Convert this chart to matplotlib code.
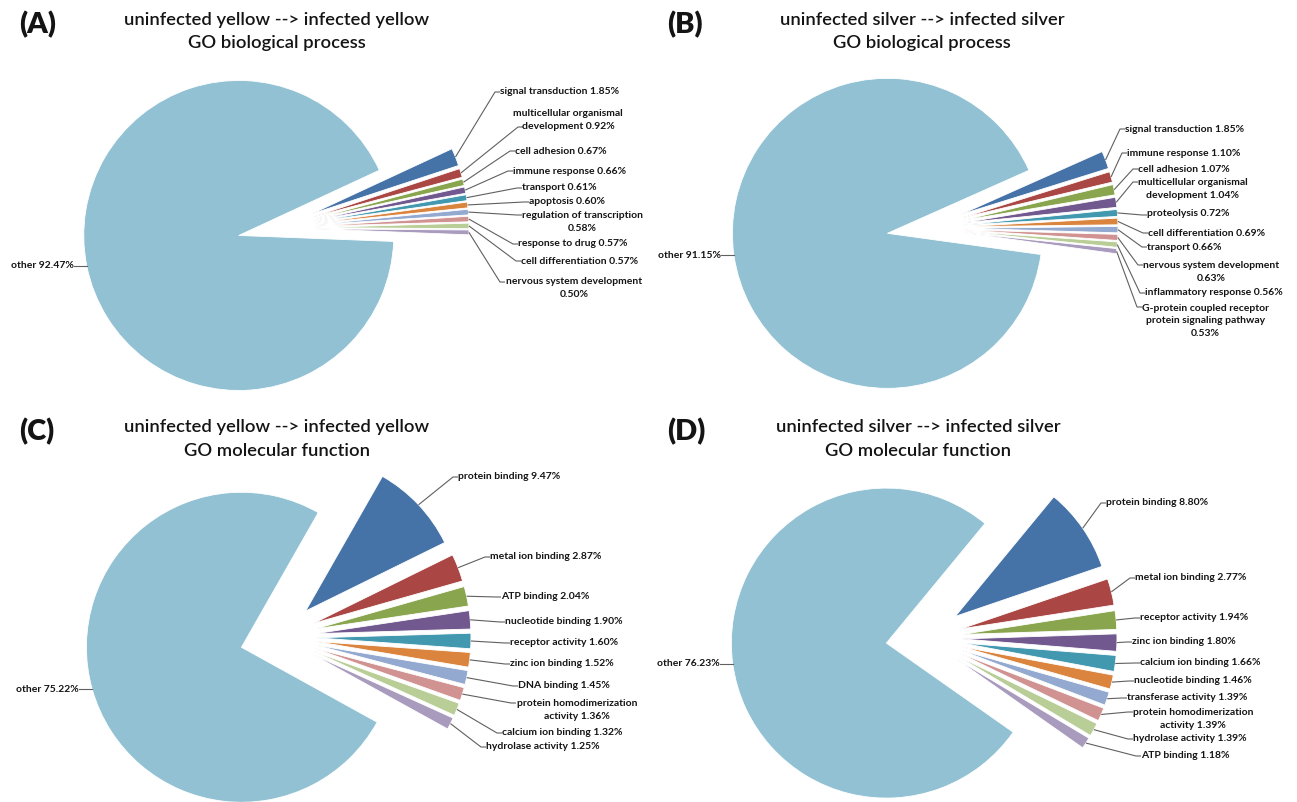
import matplotlib
matplotlib.use("Agg")
import matplotlib.pyplot as plt
import numpy as np

W, H = 1297, 803

# ---- data -------------------------------------------------------------
bp_yellow_terms = ["signal transduction", "multicellular organismal\ndevelopment",
                   "cell adhesion", "immune response", "transport", "apoptosis",
                   "regulation of transcription\n", "response to drug",
                   "cell differentiation", "nervous system development\n"]
bp_yellow_pct = [1.85, 0.92, 0.67, 0.66, 0.61, 0.60, 0.58, 0.57, 0.57, 0.50]
bp_yellow_other = 92.47

bp_silver_terms = ["signal transduction", "immune response", "cell adhesion",
                   "multicellular organismal\ndevelopment", "proteolysis",
                   "cell differentiation", "transport", "nervous system development\n",
                   "inflammatory response",
                   "G-protein coupled receptor\nprotein signaling pathway\n"]
bp_silver_pct = [1.85, 1.10, 1.07, 1.04, 0.72, 0.69, 0.66, 0.63, 0.56, 0.53]
bp_silver_other = 91.15

mf_yellow_terms = ["protein binding", "metal ion binding", "ATP binding",
                   "nucleotide binding", "receptor activity", "zinc ion binding",
                   "DNA binding", "protein homodimerization\nactivity",
                   "calcium ion binding", "hydrolase activity"]
mf_yellow_pct = [9.47, 2.87, 2.04, 1.90, 1.60, 1.52, 1.45, 1.36, 1.32, 1.25]
mf_yellow_other = 75.22

mf_silver_terms = ["protein binding", "metal ion binding", "receptor activity",
                   "zinc ion binding", "calcium ion binding", "nucleotide binding",
                   "transferase activity", "protein homodimerization\nactivity",
                   "hydrolase activity", "ATP binding"]
mf_silver_pct = [8.80, 2.77, 1.94, 1.80, 1.66, 1.46, 1.39, 1.39, 1.39, 1.18]
mf_silver_other = 76.23

panel_letters = ["(A)", "(B)", "(C)", "(D)"]
panel_titles = ["uninfected yellow --> infected yellow\nGO biological process",
                "uninfected silver --> infected silver\nGO biological process",
                "uninfected yellow --> infected yellow\nGO molecular function",
                "uninfected silver --> infected silver\nGO molecular function"]

# ---- styling ----------------------------------------------------------
slice_colors = ["#4572A7", "#AA4643", "#89A54E", "#71588F", "#4198AF",
                "#DB843D", "#93A9CF", "#D19392", "#B9CD96", "#A99BBD"]
other_color = "#91C1D3"
text_color = "#141414"
line_color = "#606060"
FONT = ["Lato", "DejaVu Sans"]
LABEL_SIZE = 7.5
RADIUS = 155
EXPLODE = 0.245 * RADIUS

# layout (screen pixel coordinates, y downward)
panels = [
    dict(terms=bp_yellow_terms, pct=bp_yellow_pct, other=bp_yellow_other,
         center=(276, 229), start=24.9, title_x=277, title_y=(20, 43),
         letter=(19, 25),
         labels=[(500, 92, 498, 93), (513, 120, 521, 128), (515, 151, 513, 152),
                 (513, 171, 511, 172), (522, 188, 520, 189), (529, 202, 527, 203),
                 (522, 222, 520, 216), (518, 244, 516, 245), (521, 261, 519, 262),
                 (506, 288, 503, 283)]),
    dict(terms=bp_silver_terms, pct=bp_silver_pct, other=bp_silver_other,
         center=(925, 229), start=24.0, title_x=922, title_y=(20, 43),
         letter=(667, 25),
         labels=[(1125, 129, 1123, 130), (1127, 153, 1125, 154), (1138, 169, 1136, 170),
                 (1138, 189, 1136, 183), (1147, 214, 1145, 216), (1148, 233, 1146, 234),
                 (1147, 247, 1145, 248), (1143, 272, 1141, 266), (1145, 293, 1143, 294),
                 (1142, 321, 1140, 308)]),
    dict(terms=mf_yellow_terms, pct=mf_yellow_pct, other=mf_yellow_other,
         center=(278, 638), start=60.3, title_x=277, title_y=(427, 451),
         letter=(19, 432),
         labels=[(458, 477, 456, 478), (490, 557, 488, 558), (501, 597, 499, 598),
                 (505, 622, 503, 623), (510, 643, 508, 644), (510, 664, 508, 665),
                 (518, 686, 516, 687), (517, 710, 514, 704), (502, 733, 500, 734),
                 (486, 747, 484, 748)]),
    dict(terms=mf_silver_terms, pct=mf_silver_pct, other=mf_silver_other,
         center=(924, 639), start=50.5, title_x=918, title_y=(427, 451),
         letter=(667, 432),
         labels=[(1106, 503, 1104, 504), (1135, 578, 1133, 579), (1140, 618, 1138, 619),
                 (1132, 642, 1130, 643), (1140, 663, 1138, 664), (1134, 681, 1132, 682),
                 (1127, 698, 1125, 699), (1133, 719, 1131, 713), (1133, 739, 1131, 740),
                 (1141, 756, 1139, 757)]),
]

fig = plt.figure(figsize=(W / 100, H / 100), dpi=100)
ax = fig.add_axes([0, 0, 1, 1])


def fy(y):
    return H - y


for i, p in enumerate(panels):
    values = list(p["pct"]) + [p["other"]]
    colors = slice_colors + [other_color]
    cx, cy = p["center"]
    wedges, _ = ax.pie(values, explode=[EXPLODE] * len(values),
                       startangle=p["start"], counterclock=False,
                       center=(cx, fy(cy)), radius=RADIUS, colors=colors,
                       wedgeprops=dict(edgecolor="white", linewidth=0.6))

    # labels for the named terms
    for term, pct, w, (tx, ty, lx, ly) in zip(p["terms"], p["pct"], wedges, p["labels"]):
        mid = np.deg2rad((w.theta1 + w.theta2) / 2)
        ax_, ay_ = w.center[0] + w.r * np.cos(mid), w.center[1] + w.r * np.sin(mid)
        ax.plot([ax_, lx - 3, lx + 2], [ay_, fy(ly), fy(ly)], color=line_color,
                lw=0.8, solid_capstyle="butt")
        if term.endswith("\n"):
            txt = f"{term}{pct:.2f}%"
        else:
            txt = f"{term} {pct:.2f}%"
        ax.text(tx, fy(ty), txt, ha="left", va="center", multialignment="center",
                fontsize=LABEL_SIZE, fontweight="bold", color=text_color, family=FONT,
                linespacing=1.5)

    # label for the "other" slice
    w = wedges[-1]
    mid = np.deg2rad((w.theta1 + w.theta2) / 2)
    ox, oy = w.center[0] + w.r * np.cos(mid), w.center[1] + w.r * np.sin(mid)
    ax.plot([ox, ox - 13], [oy, oy], color=line_color, lw=0.8)
    ax.text(ox - 13, oy + 1, f"other {p['other']:.2f}%", ha="right", va="center",
            fontsize=LABEL_SIZE, fontweight="bold", color=text_color, family=FONT)

    # titles
    line1, line2 = panel_titles[i].split("\n")
    ax.text(p["title_x"], fy(p["title_y"][0]), line1, ha="center", va="center",
            fontsize=13.2, fontweight="semibold", color=text_color, family=FONT)
    ax.text(p["title_x"], fy(p["title_y"][1]), line2, ha="center", va="center",
            fontsize=13.2, fontweight="semibold", color=text_color, family=FONT)
    ax.text(p["letter"][0], fy(p["letter"][1]), panel_letters[i], ha="left",
            va="center", fontsize=21, fontweight="heavy", color=text_color,
            family=FONT)

ax.set_xlim(0, W)
ax.set_ylim(0, H)
ax.set_aspect("auto")
ax.axis("off")

fig.savefig("out.png", dpi=100, facecolor="white")
